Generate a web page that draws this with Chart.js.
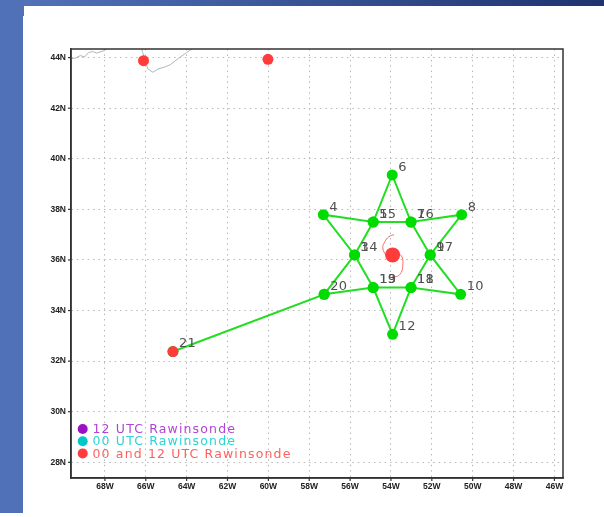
<!DOCTYPE html>
<html>
<head>
<meta charset="utf-8">
<title>Rawinsonde and dropsonde track</title>
<script src="https://cdn.jsdelivr.net/npm/chart.js@4"></script>
<style>
    html, body { margin: 0; padding: 0; background: #fff; overflow: hidden; }
    #top { position: absolute; left: 0; top: 0; width: 604px; height: 6px; background: linear-gradient(90deg, #5474bb, #1e3370); }
    #left { position: absolute; left: 0; top: 0; width: 23px; height: 513px; background: #5070b8; }
    #notch { position: absolute; left: 23px; top: 6px; width: 1px; height: 10px; background: #5070b8; }
    #wrap { position: absolute; left: 0; top: 0; width: 604px; height: 517px; filter: blur(0.35px); }
</style>
</head>
<body>
<div id="top"></div>
<div id="left"></div>
<div id="notch"></div>
<div id="wrap"><canvas id="chart" width="604" height="517"></canvas></div>
<script>
// ==================== axis ticks ====================
var lonTicks = [-68, -66, -64, -62, -60, -58, -56, -54, -52, -50, -48, -46];
var latTicks = [28, 30, 32, 34, 36, 38, 40, 42, 44];

// ==================== drop points, in flight order ====================
var dropNames = ['21', '20', '3', '4', '5', '6', '7', '8', '9', '10', '11', '12', '13', '14', '15', '16', '17', '18', '19', '20'];
var dropLons = [-64.67, -57.27, -55.78, -57.31, -54.87, -53.94, -53.02, -50.54, -52.08, -50.59, -53.02, -53.92, -54.87, -55.78, -54.87, -53.02, -52.08, -53.02, -54.87, -57.27];
var dropLats = [32.38, 34.64, 36.20, 37.79, 37.50, 39.36, 37.50, 37.79, 36.20, 34.64, 34.91, 33.06, 34.91, 36.20, 37.50, 37.50, 36.20, 34.91, 34.91, 34.64];

// ==================== rawinsonde stations (00 and 12 UTC) ====================
var sondeLons = [-66.11, -60.02, -64.67];
var sondeLats = [43.88, 43.93, 32.38];

// storm position
var stormLon = [-53.92];
var stormLat = [36.20];

// storm symbol tails
var tailTopLons = [-53.85, -54.10, -54.30, -54.40, -54.30, -54.15];
var tailTopLats = [37.00, 36.92, 36.72, 36.50, 36.25, 36.10];
var tailBottomLons = [-53.65, -53.45, -53.42, -53.50, -53.68, -53.95];
var tailBottomLats = [36.30, 36.10, 35.78, 35.50, 35.36, 35.33];

// ==================== coastline bits ====================
var coastLons1 = [-69.66, -69.45, -69.2, -69.0, -68.8, -68.6, -68.4, -68.1, -67.9];
var coastLats1 = [43.96, 43.98, 44.08, 44.02, 44.2, 44.24, 44.18, 44.26, 44.34];
var coastLons2 = [-66.2, -66.15, -66.05, -65.9, -65.65, -65.4, -65.1, -64.8, -64.4, -64.0, -63.75];
var coastLats2 = [44.34, 44.2, 43.95, 43.55, 43.42, 43.55, 43.62, 43.72, 43.97, 44.2, 44.34];

// ==================== legend ====================
var legendNames = ['12 UTC Rawinsonde', '00 UTC Rawinsonde', '00 and 12 UTC Rawinsonde'];
var legendDots = ['#9a10c4', '#00c8c8', '#ff3b3b'];
var legendText = ['#b044d4', '#2cd4d4', '#ff6060'];

function toPoints(xs, ys) {
    return xs.map(function(x, i) { return { x: x, y: ys[i] }; });
}

// Station numbers and the legend are drawn after the datasets
var annotatePlugin = {
    id: 'annotate',
    afterDatasetsDraw: function(chart) {
        var ctx = chart.ctx;
        var sx = chart.scales.x;
        var sy = chart.scales.y;
        var area = chart.chartArea;
        ctx.save();

        // frame on all four sides
        ctx.strokeStyle = '#333';
        ctx.lineWidth = 1.5;
        ctx.strokeRect(area.left, area.top, area.right - area.left, area.bottom - area.top);

        ctx.textBaseline = 'middle';
        ctx.textAlign = 'left';
        ctx.font = '13px "DejaVu Sans"';
        ctx.letterSpacing = '0.3px';
        ctx.fillStyle = '#505050';
        dropNames.forEach(function(name, i) {
            // 20 is visited twice, number it once
            if (dropNames.indexOf(name) !== i) return;
            ctx.fillText(name, sx.getPixelForValue(dropLons[i]) + 6, sy.getPixelForValue(dropLats[i]) - 7.5);
        });

        ctx.font = '12.5px "DejaVu Sans"';
        ctx.letterSpacing = '1.15px';
        legendNames.forEach(function(name, i) {
            var y = area.bottom - 49 + i * 12.2;
            ctx.fillStyle = legendDots[i];
            ctx.beginPath();
            ctx.arc(area.left + 11.7, y, 5, 0, Math.PI * 2);
            ctx.fill();
            ctx.fillStyle = legendText[i];
            ctx.fillText(name, area.left + 21.5, y + 1);
        });
        ctx.restore();
    }
};

function tickFont() {
    return { family: '"Liberation Sans"', size: 8.5, weight: 'bold' };
}

new Chart(document.getElementById('chart'), {
    type: 'scatter',
    data: {
        datasets: [
            { data: toPoints(sondeLons, sondeLats), pointRadius: 5.5, pointBackgroundColor: '#ff3b3b', pointBorderWidth: 0 },
            { data: toPoints(stormLon, stormLat), pointRadius: 7.5, pointBackgroundColor: '#ff3b3b', pointBorderWidth: 0 },
            { data: toPoints(tailTopLons, tailTopLats), showLine: true, tension: 0.4, borderColor: '#f46a6a', borderWidth: 1, pointRadius: 0 },
            { data: toPoints(tailBottomLons, tailBottomLats), showLine: true, tension: 0.4, borderColor: '#f46a6a', borderWidth: 1, pointRadius: 0 },
            { data: toPoints(dropLons, dropLats), showLine: true, borderColor: '#22dd22', borderWidth: 2, pointRadius: 5.5, pointBackgroundColor: '#00dc00', pointBorderWidth: 0 },
            { data: toPoints(coastLons1, coastLats1), showLine: true, borderColor: '#b4b4b4', borderWidth: 1, pointRadius: 0 },
            { data: toPoints(coastLons2, coastLats2), showLine: true, borderColor: '#b4b4b4', borderWidth: 1, pointRadius: 0 }
        ]
    },
    options: {
        responsive: false,
        animation: false,
        layout: { padding: { left: 31, right: 41, top: 49, bottom: 9 } },
        plugins: { legend: { display: false }, tooltip: { enabled: false } },
        scales: {
            x: {
                type: 'linear',
                min: -69.66,
                max: -45.58,
                afterBuildTicks: function(scale) { scale.ticks = lonTicks.map(function(v) { return { value: v }; }); },
                afterFit: function(scale) { scale.height = 30; },
                border: { color: '#333', width: 1.5, dash: [1.5, 3.9] },
                grid: { color: '#b8b8b8', lineWidth: 1, drawTicks: false },
                ticks: {
                    color: '#222',
                    font: tickFont(),
                    maxRotation: 0,
                    autoSkip: false,
                    padding: 4,
                    callback: function(v) { return Math.abs(v) + 'W'; }
                }
            },
            y: {
                type: 'linear',
                min: 27.38,
                max: 44.34,
                afterBuildTicks: function(scale) { scale.ticks = latTicks.map(function(v) { return { value: v }; }); },
                afterFit: function(scale) { scale.width = 40; },
                border: { color: '#333', width: 1.5, dash: [1.5, 3.9] },
                grid: { color: '#b8b8b8', lineWidth: 1, drawTicks: false },
                ticks: {
                    color: '#222',
                    font: tickFont(),
                    autoSkip: false,
                    padding: 5,
                    callback: function(v) { return v + 'N'; }
                }
            }
        }
    },
    plugins: [annotatePlugin, {
        // short outward ticks
        id: 'tickMarks',
        beforeDatasetsDraw: function(chart) {
            var ctx = chart.ctx, a = chart.chartArea, sx = chart.scales.x, sy = chart.scales.y;
            ctx.save();
            ctx.strokeStyle = '#333';
            ctx.lineWidth = 1.2;
            lonTicks.forEach(function(v) {
                var p = sx.getPixelForValue(v);
                ctx.beginPath(); ctx.moveTo(p, a.bottom); ctx.lineTo(p, a.bottom + 3); ctx.stroke();
            });
            latTicks.forEach(function(v) {
                var p = sy.getPixelForValue(v);
                ctx.beginPath(); ctx.moveTo(a.left, p); ctx.lineTo(a.left - 3, p); ctx.stroke();
            });
            ctx.restore();
        }
    }]
});
</script>
</body>
</html>
